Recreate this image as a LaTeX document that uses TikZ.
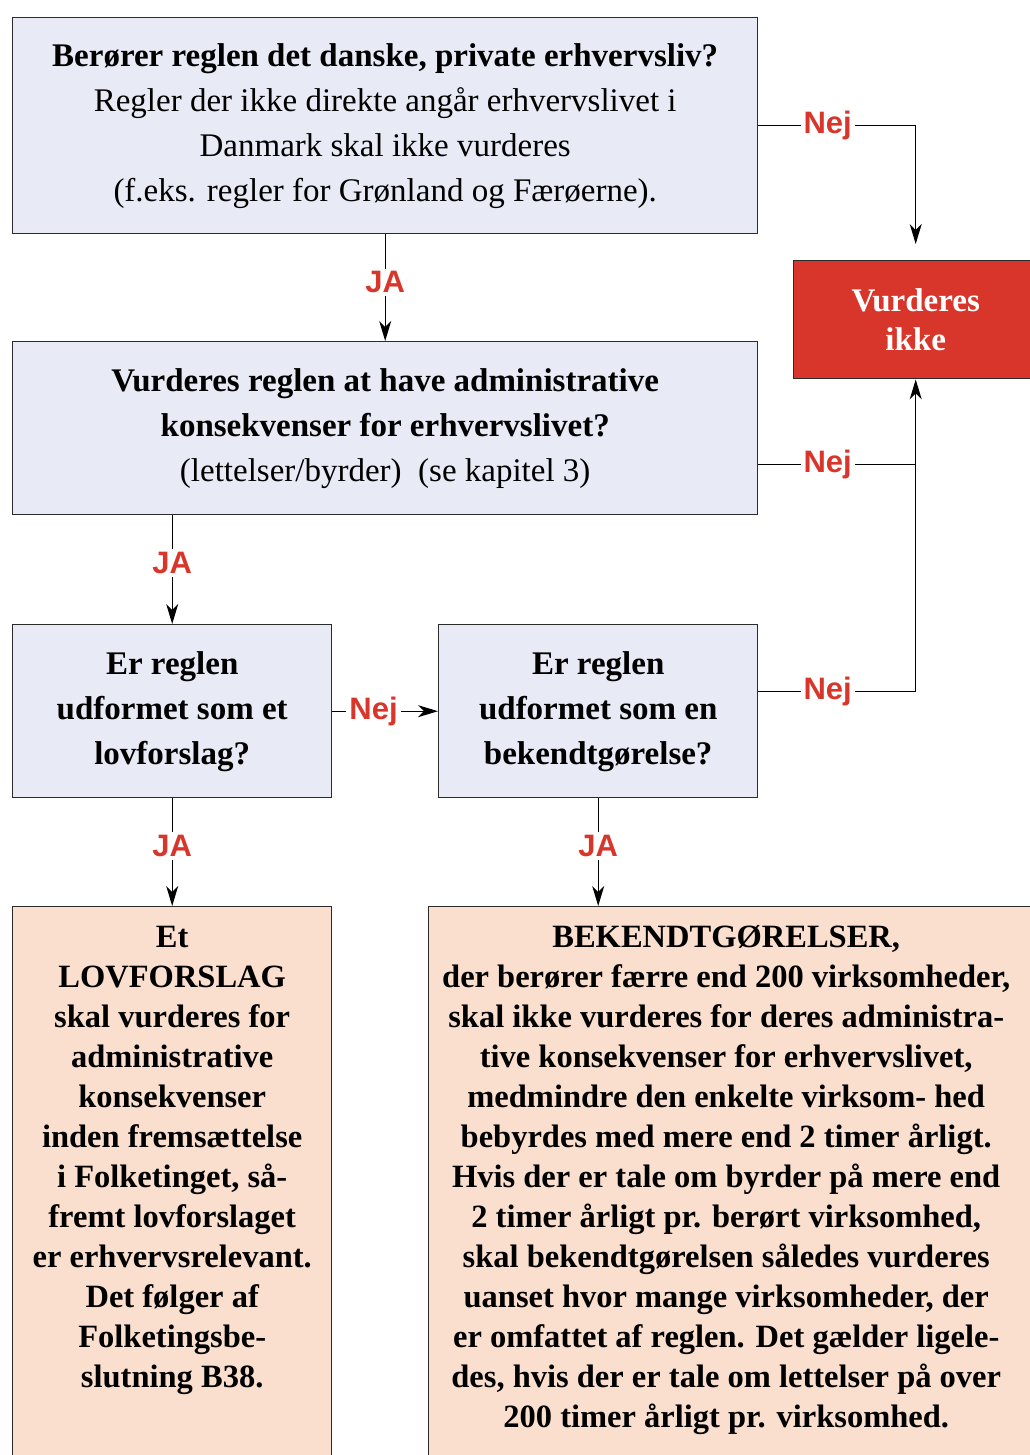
\documentclass[tikz,border=0pt]{standalone}
\usepackage{fontspec}
\setmainfont{Liberation Serif}
\newfontfamily\labelfont{Liberation Sans}
\usetikzlibrary{arrows.meta,positioning}

\definecolor{boxblue}{HTML}{E8EBF5}
\definecolor{boxpeach}{HTML}{FADFCF}
\definecolor{nejred}{HTML}{D9362B}
\definecolor{kant}{HTML}{2B2B2B}

\tikzset{
  question/.style={draw=kant, line width=1.4pt, fill=boxblue, align=center,
    inner sep=0pt, anchor=north west, font=\fontsize{33}{45}\selectfont},
  result/.style={draw=kant, line width=1.4pt, fill=boxpeach, inner sep=0pt,
    anchor=north west, font=\bfseries\fontsize{32.5}{40}\selectfont},
  stopbox/.style={draw=kant, line width=1.4pt, fill=nejred, text=white, align=center,
    inner sep=0pt, anchor=north west, font=\bfseries\fontsize{33}{39}\selectfont},
  answer/.style={fill=white, text=nejred, inner sep=3pt,
    font=\labelfont\bfseries\fontsize{31}{31}\selectfont},
  arrow/.style={line width=1.2pt, -{Stealth[length=20pt,width=12pt,inset=6pt]}}
}

\begin{document}
\begin{tikzpicture}[x=1pt,y=-1pt]
        \useasboundingbox (0,0) rectangle (1029,1455);
        % the question boxes
        \node[question, minimum width=745pt, minimum height=216pt] (danske) at (12,17)
          {\textbf{Berører reglen det danske, private erhvervsliv?}\\
           Regler der ikke direkte angår erhvervslivet i\\
           Danmark skal ikke vurderes\\
           (f.eks. regler for Grønland og Færøerne).};
        \node[question, minimum width=745pt, minimum height=173pt] (konsek) at (12,341)
          {\textbf{Vurderes reglen at have administrative}\\
           \textbf{konsekvenser for erhvervslivet?}\\
           (lettelser/byrder)\ \ (se kapitel 3)};
        \node[question, minimum width=319pt, minimum height=173pt] (lovforslag) at (12,624)
          {\textbf{Er reglen}\\\textbf{udformet som et}\\\textbf{lovforslag?}};
        \node[question, minimum width=319pt, minimum height=173pt] (bekendt) at (438,624)
          {\textbf{Er reglen}\\\textbf{udformet som en}\\\textbf{bekendtgørelse?}};
        \node[stopbox, minimum width=244pt, minimum height=118pt] (ikke) at (793,260)
          {Vurderes\\ikke};
        % the outcome boxes, running off the page
        \node[result] (lovtekst) at (12,906)
          {\parbox[t][560pt][t]{319pt}{\centering\rule{0pt}{41pt}Et\\
           LOVFORSLAG\\
           skal vurderes for\\
           administrative\\
           konsekvenser\\
           inden fremsættelse\\
           i Folketinget, så-\\
           fremt lovforslaget\\
           er erhvervsrelevant.\\
           Det følger af\\
           Folketingsbe-\\
           slutning B38.}};
        \node[result] (bektekst) at (428,906)
          {\parbox[t][560pt][t]{604pt}{\hspace*{-3pt}\parbox[t]{601pt}{\centering\rule{0pt}{41pt}BEKENDTGØRELSER,\\
           der berører færre end 200 virksomheder,\\
           skal ikke vurderes for deres administra-\\
           tive konsekvenser for erhvervslivet,\\
           medmindre den enkelte virksom- hed\\
           bebyrdes med mere end 2 timer årligt.\\
           Hvis der er tale om byrder på mere end\\
           2 timer årligt pr. berørt virksomhed,\\
           skal bekendtgørelsen således vurderes\\
           uanset hvor mange virksomheder, der\\
           er omfattet af reglen. Det gælder ligele-\\
           des, hvis der er tale om lettelser på over\\
           200 timer årligt pr. virksomhed.}}};
        % the JA arrows
        \draw[arrow] (danske.south) -- node[answer, pos=0.45] {JA} (konsek.north);
        \draw[arrow] (lovforslag.north |- konsek.south) -- node[answer, pos=0.44] {JA} (lovforslag.north);
        \draw[arrow] (lovforslag.south) -- node[answer, pos=0.44] {JA} (lovforslag.south |- lovtekst.north);
        \draw[arrow] (bekendt.south) -- node[answer, pos=0.44] {JA} (bekendt.south |- bektekst.north);
        % the Nej arrows
        \coordinate (samling) at ([yshift=-36pt]konsek.east -| ikke.south);
        \draw[arrow, shorten >=16pt] (danske.east) -- node[answer, pos=0.44] {Nej}
          (danske.east -| ikke.north) -- (ikke.north);
        \draw[arrow] ([yshift=-36pt]konsek.east) -- node[answer, pos=0.44] {Nej}
          (samling) -- (ikke.south);
        \draw[line width=1.2pt] ([yshift=20pt]bekendt.east) -- node[answer, pos=0.44] {Nej}
          ([yshift=20pt]bekendt.east -| ikke.south) -- (samling);
        \draw[arrow] (lovforslag.east) -- node[answer, pos=0.39] {Nej} (bekendt.west);
\end{tikzpicture}
\end{document}
